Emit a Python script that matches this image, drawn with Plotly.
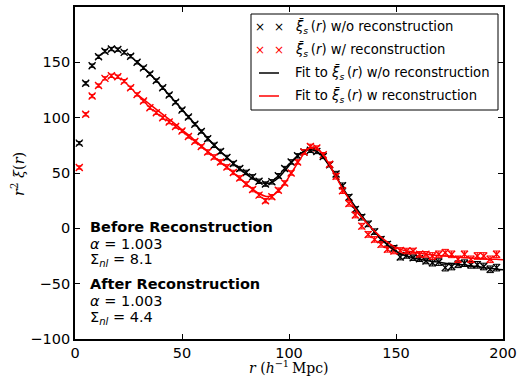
import plotly.graph_objects as go

# Bin centres of the correlation function, r in h^-1 Mpc
r_bins = [2, 5, 8, 11, 14, 17, 20, 23, 26, 29, 32, 35, 38, 41, 44, 47, 50, 53, 56, 59,
          62, 65, 68, 71, 74, 77, 80, 83, 86, 89, 92, 95, 98, 101, 104, 107, 110, 113, 116, 119,
          122, 125, 128, 131, 134, 137, 140, 143, 146, 149, 152, 155, 158, 161, 164, 167, 170, 173, 176, 179,
          182, 185, 188, 191, 194, 197]

# r^2 xi(r) before reconstruction
xi_pre = [77, 131, 147, 155, 160, 162, 161.5, 159, 155.5, 150, 145, 139.5, 133.5, 127, 120.5, 114, 107, 100.5, 94, 87.5,
          81, 75, 69.5, 64, 58.5, 54, 50.5, 46.5, 42.5, 40, 42, 47.5, 54, 60, 65.5, 69, 70.5, 69.5, 65, 57.5,
          49, 38.5, 28, 17, 10, 4, -3, -10, -14.5, -18, -26, -24.5, -26.5, -27.5, -29.5, -31, -30.5, -35.5, -34.5, -32.5,
          -31.5, -33, -33, -34.5, -37, -35.5]
err_pre = [1.5, 1.5, 1.5, 1.5, 1.5, 1.5, 1.5, 1.5, 1.5, 1.5, 1.5, 1.5, 1.5, 1.5, 1.5, 1.5, 1.5, 1.5, 1.5, 1.5,
           2, 2, 2, 2, 2, 2, 2, 2, 2, 2, 2, 2, 2, 2, 2, 2, 2, 2, 2, 2,
           2.5, 2.5, 2.5, 2.5, 2.5, 2.5, 2.5, 2.5, 2.5, 2.5, 2.5, 2.5, 2.5, 2.5, 2.5, 3, 3, 3, 3, 3,
           3, 3, 3, 3, 3, 3]

# r^2 xi(r) after reconstruction
xi_post = [55, 103, 119.5, 129, 135.5, 137.8, 137, 133, 127, 121, 115, 109, 104.5, 100, 96, 92, 88, 83, 78.5, 74,
           69, 64.5, 60, 55.5, 50.5, 45.5, 40, 35, 30, 25, 28.5, 34.5, 41, 50, 60, 69, 74, 72.5, 66.5, 58,
           47, 34, 22.5, 12, 2, -5.5, -10, -14.5, -19, -20.5, -20, -20.5, -20.5, -23.5, -23.5, -25, -23.5, -22, -23.5, -28,
           -23.5, -28, -25, -25, -28, -23.5]
err_post = [1.5, 1.5, 1.5, 1.5, 1.5, 1.5, 1.5, 1.5, 1.5, 1.5, 1.5, 1.5, 1.5, 1.5, 1.5, 1.5, 1.5, 1.5, 1.5, 1.5,
            2, 2, 2, 2, 2, 2, 2, 2, 2, 2, 2, 2, 2, 2, 2, 2, 2, 2, 2, 2,
            2.5, 2.5, 2.5, 2.5, 2.5, 2.5, 2.5, 2.5, 2.5, 2.5, 2.5, 2.5, 2.5, 2.5, 2.5, 3, 3, 3, 3, 3,
            3, 3, 3, 3, 3, 3]

# Best-fit BAO template curves
fit_r = [29, 32, 35, 38, 41, 44, 47, 50, 53, 56, 59, 62, 65, 68, 71, 74, 77, 80, 83, 86,
         89, 92, 95, 98, 101, 104, 107, 110, 113, 116, 119, 122, 125, 128, 131, 134, 137, 140, 143, 146,
         149, 152, 155, 158, 161, 164, 167, 170, 173, 176, 179, 182, 185, 188, 191, 194, 197, 200]
fit_pre = [150.5, 145, 139.5, 133.5, 127, 120.5, 114, 107.5, 101, 94.5, 88, 81.5, 75.5, 69.5, 64, 58.5, 53.5, 49, 45, 42,
           40.5, 41.5, 45.5, 52, 59, 65.5, 69.5, 71, 69.5, 64, 56, 47, 37, 28, 19.5, 11.5, 4, -3, -9.5, -15,
           -19.5, -23, -25, -26.5, -28, -29, -30, -30.5, -31.5, -32, -32.5, -33, -34, -34.5, -35.5, -36, -37, -37.5]
fit_post = [121, 116.5, 112, 107.5, 103, 98.5, 94, 89, 84.5, 79.5, 74.5, 69.5, 64.5, 59.5, 55, 50, 45, 40, 35.5, 31.5,
            29, 29.5, 33.5, 40.5, 49.5, 59, 67.5, 73, 72.5, 66.5, 57, 46.5, 36, 26.5, 17.5, 10, 3.5, -2.5, -8, -12.5,
            -16.5, -19, -20.5, -21.5, -22.5, -23.5, -24, -24.5, -25, -25.5, -26, -26.5, -27, -27, -27.5, -28, -28, -28.5]

x_ticks = [0, 50, 100, 150, 200]
y_ticks = [-100, -50, 0, 50, 100, 150, 200]

SANS = "DejaVu Sans"
SERIF = "DejaVu Serif"

W, H = 518, 379
ML, MR, MT, MB = 75, 15, 7, 40


def px(x):
    return (x - ML) / (W - ML - MR)


def py(y):
    return (H - MB - y) / (H - MT - MB)


fig = go.Figure()

for xs, ys, es, col in [(r_bins, xi_pre, err_pre, "black"), (r_bins, xi_post, err_post, "red")]:
    fig.add_trace(go.Scatter(
        x=xs, y=ys, mode="markers",
        marker=dict(symbol="x-thin", size=7, line=dict(width=1.4, color=col), color=col),
        error_y=dict(type="data", array=es, visible=True, color=col, thickness=1, width=3),
        showlegend=False, cliponaxis=False,
    ))

for ys, col in [(fit_pre, "black"), (fit_post, "red")]:
    fig.add_trace(go.Scatter(
        x=fit_r, y=ys, mode="lines", line=dict(color=col, width=1.5, shape="spline", smoothing=0.8),
        showlegend=False,
    ))

axis_common = dict(
    showgrid=False, zeroline=False, showline=True, linecolor="black", linewidth=1.8,
    mirror="ticks", ticks="inside", ticklen=5, tickwidth=1, tickcolor="black",
    tickfont=dict(family=SANS, size=14.5, color="black"), automargin=False,
)
fig.update_xaxes(range=[0, 200], tickvals=x_ticks, ticktext=[str(v) for v in x_ticks], **axis_common)
fig.update_yaxes(range=[-100, 200], tickvals=y_ticks,
                 ticktext=[str(v).replace("-", "\u2212") for v in y_ticks], **axis_common)

annotations = []

# axis labels
annotations.append(dict(
    x=px(289), y=py(367), xref="paper", yref="paper", showarrow=False,
    text="<i>r</i> (<i>h</i><sup>\u22121</sup>\u2009Mpc)",
    font=dict(family=SERIF, size=14, color="black"), xanchor="center", yanchor="middle"))
annotations.append(dict(
    x=px(18), y=py(174), xref="paper", yref="paper", showarrow=False, textangle=-90,
    text="<i>r</i><sup>2</sup> <i>\u03be</i>(<i>r</i>)",
    font=dict(family=SERIF, size=14.5, color="black"), xanchor="center", yanchor="middle"))

# fit summary text
summary = [
    (226.5, "<b>Before Reconstruction</b>"),
    (243.5, "<i>\u03b1</i> = 1.003"),
    (260, "\u03a3<sub><i>nl</i></sub> = 8.1"),
    (284, "<b>After Reconstruction</b>"),
    (301, "<i>\u03b1</i> = 1.003"),
    (317.5, "\u03a3<sub><i>nl</i></sub> = 4.4"),
]
for yy, txt in summary:
    annotations.append(dict(
        x=px(88), y=py(yy), xref="paper", yref="paper", showarrow=False, text=txt,
        font=dict(family=SANS, size=14.5, color="black"), xanchor="left", yanchor="middle"))

# legend box
shapes = [dict(type="rect", xref="paper", yref="paper", x0=px(251), x1=px(498), y0=py(110), y1=py(14),
               line=dict(color="black", width=1), fillcolor="white", layer="above")]

xi_bar = "<i>\u03be\u0304</i><sub><i>s</i></sub>\u2009(<i>r</i>)"
legend_rows = [
    (27, "black", "marker", xi_bar + " w/o reconstruction"),
    (50, "red", "marker", xi_bar + " w/ reconstruction"),
    (73, "black", "line", "Fit to " + xi_bar + " w/o reconstruction"),
    (96, "red", "line", "Fit to " + xi_bar + " w reconstruction"),
]
for yy, col, kind, txt in legend_rows:
    if kind == "marker":
        for xx in (259.5, 278.5):
            annotations.append(dict(
                x=px(xx), y=py(yy), xref="paper", yref="paper", showarrow=False, text="\u00d7",
                font=dict(family=SANS, size=12, color=col), xanchor="center", yanchor="middle"))
    else:
        shapes.append(dict(type="line", xref="paper", yref="paper", x0=px(259), x1=px(279),
                           y0=py(yy), y1=py(yy), line=dict(color=col, width=1.5), layer="above"))
    annotations.append(dict(
        x=px(293), y=py(yy), xref="paper", yref="paper", showarrow=False, text=txt,
        font=dict(family=SANS, size=13.2, color="black"), xanchor="left", yanchor="middle"))

fig.update_layout(
    width=W, height=H, margin=dict(l=ML, r=MR, t=MT, b=MB),
    paper_bgcolor="white", plot_bgcolor="white",
    annotations=annotations, shapes=shapes,
)

fig.write_html("out.html")
